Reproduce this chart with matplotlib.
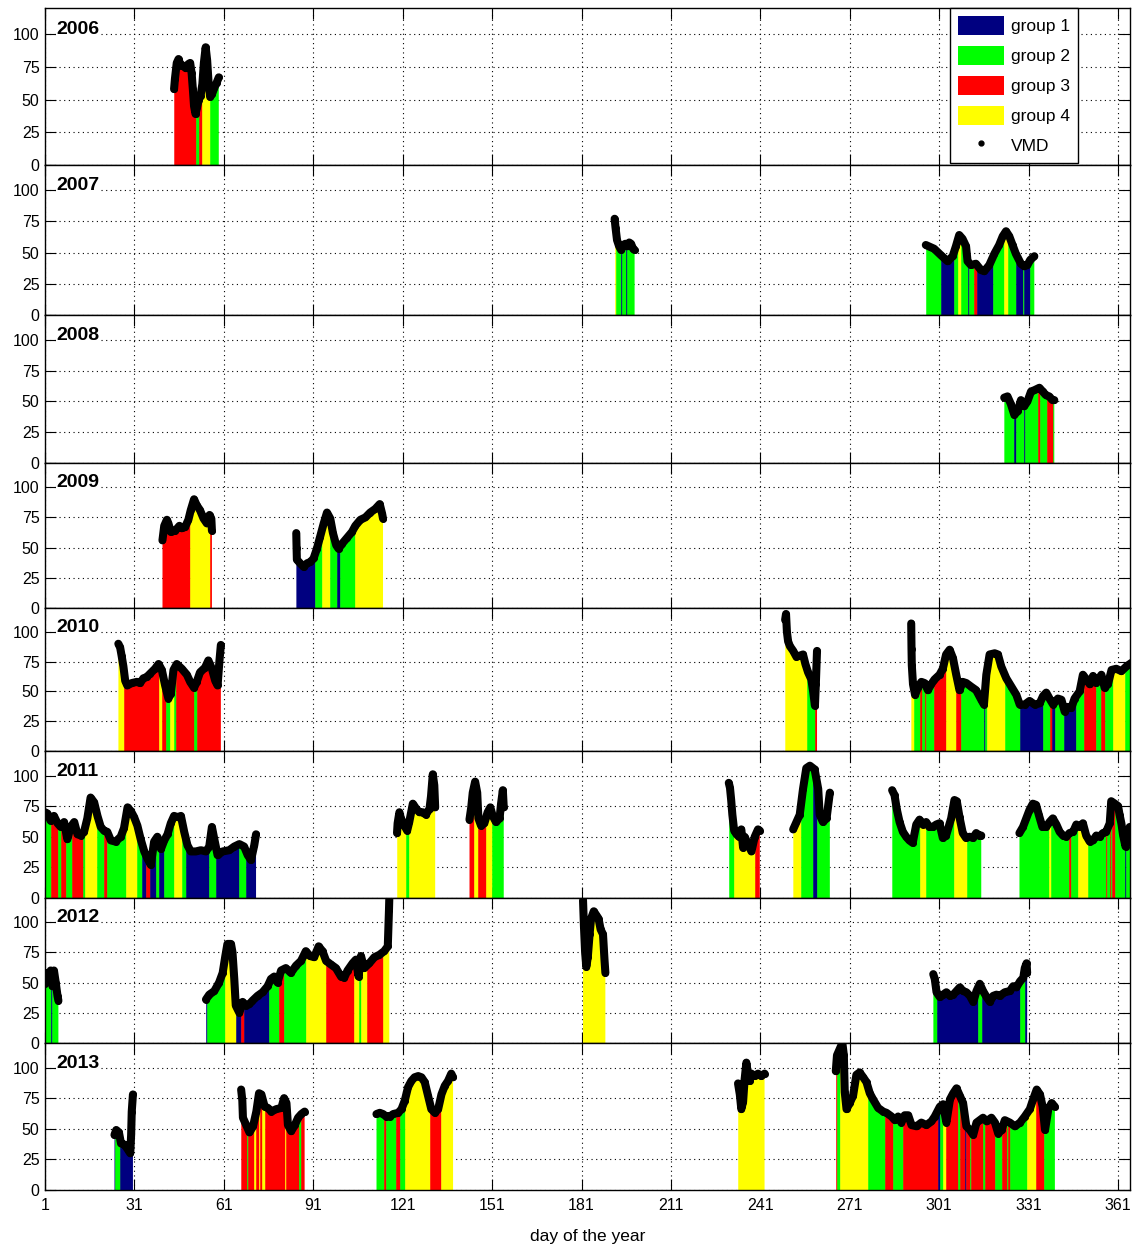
import numpy as np
import matplotlib
matplotlib.use("Agg")
import matplotlib.pyplot as plt
from matplotlib.patches import Patch, PathPatch
from matplotlib.lines import Line2D
from matplotlib.path import Path

plt.rcParams['font.family'] = ['Liberation Sans', 'DejaVu Sans']

years = [2006, 2007, 2008, 2009, 2010, 2011, 2012, 2013]
group_names = ['group 1', 'group 2', 'group 3', 'group 4']
group_colors = {1: '#000080', 2: '#00ff00', 3: '#ff0000', 4: '#ffff00'}
xticks = [1, 31, 61, 91, 121, 151, 181, 211, 241, 271, 301, 331, 361]
yticks = [0, 25, 50, 75, 100]

# ---- VMD observations: one list per continuous run (day of year, VMD) ----
day_2006 = [[44.3, 44.6, 45.2, 45.8, 46.5, 47.3, 48.2, 49.0, 49.7, 50.2, 50.6, 51.0, 51.5,
             52.0, 52.6, 53.2, 53.8, 54.3, 54.9, 55.4, 55.9, 56.4, 57.0, 57.8, 58.6, 59.3]]
vmd_2006 = [[58, 66, 78, 81, 76, 76, 74, 77, 78, 70, 58, 45, 39,
             44, 50, 53, 62, 78, 90, 80, 62, 52, 54, 59, 63, 67]]
seg_2006 = [(44.3, 51.5, 3), (51.5, 52.8, 2), (52.8, 53.7, 3), (53.7, 56.4, 4), (56.4, 59.3, 2)]

day_2007 = [[192.1, 192.4, 192.9, 193.6, 194.3, 195.0, 195.7, 196.4, 197.0, 197.6, 198.3, 198.8],
            [296.5, 299.3, 301.5, 303.8, 305.5, 306.6, 307.7, 308.8, 310.0, 310.5, 311.6, 313.3,
             315.0, 316.1, 317.8, 319.5, 321.1, 322.3, 323.4, 324.5, 325.6, 326.7, 328.4, 329.5,
             330.6, 331.5, 332.9]]
vmd_2007 = [[77, 70, 60, 55, 52, 56, 57, 55, 58, 57, 53, 52],
            [56, 53, 48, 43, 47, 55, 64, 61, 55, 43, 40, 41,
             36, 35, 40, 49, 56, 63, 67, 63, 56, 49, 41, 39,
             40, 44, 47]]
seg_2007 = [(192.1, 192.7, 4), (192.7, 194.4, 2), (194.4, 194.7, 1), (194.7, 195.9, 2),
            (195.9, 196.2, 1), (196.2, 198.8, 2),
            (296.5, 301.5, 2), (301.5, 306.0, 1), (306.0, 307.4, 2), (307.4, 308.3, 4),
            (308.3, 310.5, 2), (310.5, 311.1, 1), (311.1, 312.7, 2), (312.7, 313.6, 3),
            (313.6, 318.9, 1), (318.9, 322.8, 2), (322.8, 324.0, 4), (324.0, 326.7, 2),
            (326.7, 329.0, 1), (329.0, 329.5, 2), (329.5, 331.4, 1), (331.4, 332.9, 2)]

day_2008 = [[322.8, 323.9, 325.0, 326.2, 327.3, 328.4, 329.5, 330.6, 331.8, 332.9, 334.6,
             335.7, 336.8, 337.9, 339.0, 339.6]]
vmd_2008 = [[53, 54, 48, 39, 42, 51, 46, 50, 58, 59, 61, 58, 55, 54, 51, 51]]
seg_2008 = [(322.8, 326.2, 2), (326.2, 326.6, 1), (326.6, 329.5, 2), (329.5, 329.9, 1),
            (329.9, 334.0, 2), (334.0, 334.9, 3), (334.9, 337.1, 2), (337.1, 339.0, 3),
            (339.0, 339.6, 2)]

day_2009 = [[40.4, 41.0, 41.9, 42.4, 43.2, 44.7, 46.1, 46.9, 48.0, 49.1, 49.9, 51.0, 51.9,
             53.0, 54.2, 55.3, 56.2, 56.8, 57.0],
            [85.3, 85.4, 85.5, 86.6, 87.8, 88.9, 90.0, 91.1, 92.2, 93.3, 94.5, 95.6, 96.7, 97.6,
             98.7, 99.5, 100.6, 102.3, 104.0, 105.1, 106.8, 108.5, 110.1, 111.8, 113.3, 114.1,
             114.4]]
vmd_2009 = [[56, 68, 73, 70, 63, 64, 68, 66, 67, 73, 81, 90, 85,
             81, 74, 70, 77, 74, 64],
            [62, 50, 40, 37, 34, 37, 38, 41, 49, 59, 70, 79, 74, 62,
             52, 49, 53, 58, 63, 68, 73, 75, 79, 82, 86, 78,
             74]]
seg_2009 = [(40.4, 49.5, 3), (49.5, 56.2, 4), (56.2, 57.0, 3),
            (85.3, 91.7, 1), (91.7, 93.9, 2), (93.9, 96.7, 4), (96.7, 98.9, 2),
            (98.9, 100.1, 1), (100.1, 105.1, 2), (105.1, 114.4, 4)]

day_2010 = [[25.6, 26.2, 26.7, 27.3, 27.9, 28.6, 30.1, 31.8, 32.9, 34.0, 35.1, 36.3, 37.9, 39.1,
             40.2, 41.3, 42.4, 43.2, 44.1, 45.2, 46.9, 48.6, 49.7, 51.0, 51.9, 53.0, 54.7, 55.8,
             57.0, 58.1, 58.9, 59.5, 60.0],
            [249.3, 249.6, 249.9, 250.3, 250.9, 252.0, 253.1, 254.2, 255.3, 256.1, 257.0, 258.1,
             258.7, 259.3, 259.6, 260.0],
            [291.6, 291.7, 291.8, 292.2, 292.9, 293.8, 295.0, 296.1, 297.2, 298.3, 299.4, 301.1,
             302.2, 303.3, 304.5, 305.6, 306.7, 307.8, 308.9, 310.1, 311.7, 313.4, 315.1, 316.0,
             316.8, 317.9, 319.6, 320.7, 321.8, 323.5, 325.2, 326.9, 328.0, 329.7, 331.3, 333.0,
             334.7, 335.8, 336.9, 338.0, 339.2, 340.8, 342.0, 343.1, 344.2, 345.3, 346.4, 348.1,
             349.2, 350.4, 351.5, 352.6, 353.7, 355.4, 356.5, 357.6, 358.8, 360.4, 362.1, 363.8,
             365.5]]
vmd_2010 = [[90, 87, 80, 71, 59, 55, 57, 58, 57, 61, 62, 65, 69, 73,
             68, 55, 44, 48, 68, 73, 69, 64, 58, 53, 58, 66, 70, 76,
             69, 59, 55, 75, 89],
            [110, 115, 100, 92, 88, 84, 79, 80, 81, 73, 66, 60,
             50, 38, 56, 84],
            [107, 86, 72, 56, 47, 53, 58, 57, 51, 56, 60, 64,
             69, 81, 85, 78, 64, 51, 58, 57, 54, 51, 43, 39,
             64, 81, 82, 81, 71, 61, 54, 47, 39, 39, 42, 39,
             40, 46, 49, 44, 39, 44, 43, 33, 37, 36, 44, 50,
             64, 60, 56, 63, 57, 64, 53, 56, 68, 69, 67, 71,
             74]]
seg_2010 = [(25.6, 27.6, 4), (27.6, 39.1, 3), (39.1, 40.4, 4), (40.4, 41.6, 3), (41.6, 43.0, 2),
            (43.0, 44.3, 4), (44.3, 44.8, 2), (44.8, 51.1, 3), (51.1, 51.9, 2), (51.9, 60.0, 3),
            (249.3, 256.5, 4), (256.5, 259.3, 2), (259.3, 260.0, 3),
            (291.4, 292.7, 4), (292.7, 294.7, 2), (294.7, 295.3, 3), (295.3, 296.1, 2),
            (296.1, 296.6, 3), (296.6, 299.4, 2), (299.4, 303.3, 3), (303.3, 306.7, 4),
            (306.7, 308.2, 3), (308.2, 315.9, 2), (315.9, 316.4, 1), (316.4, 317.1, 2),
            (317.1, 322.9, 4), (322.9, 328.0, 2), (328.0, 335.8, 1), (335.8, 338.0, 2),
            (338.0, 338.8, 3), (338.8, 339.7, 1), (339.7, 342.9, 2), (342.9, 347.0, 1),
            (347.0, 349.6, 2), (349.6, 353.7, 3), (353.7, 355.2, 2), (355.2, 356.7, 3),
            (356.7, 359.3, 2), (359.3, 363.2, 4), (363.2, 366.0, 2)]

day_2011 = [[1.0, 1.8, 2.9, 4.0, 5.2, 6.3, 7.4, 8.5, 9.6, 10.8, 11.9, 13.0, 14.1, 15.2, 16.3,
             17.5, 18.6, 19.7, 20.8, 21.9, 23.1, 24.7, 26.4, 27.5, 28.7, 29.8, 30.9, 32.0, 33.1,
             34.3, 35.4, 36.5, 37.6, 38.7, 39.9, 41.0, 42.1, 43.2, 44.3, 45.5, 46.6, 47.7, 48.8,
             49.9, 51.6, 53.3, 55.0, 56.1, 57.0, 57.8, 58.9, 60.6, 62.8, 64.5, 66.2, 67.8, 69.0,
             70.1, 71.2, 71.8],
            [119.1, 119.3, 119.9, 120.4, 121.6, 122.5, 123.2, 124.4, 125.5, 126.6, 127.7, 128.8,
             130.0, 130.5, 131.1, 131.6, 131.9],
            [143.4, 144.0, 144.5, 145.3, 146.0, 146.4, 147.3, 148.4, 149.5, 150.4, 151.2, 152.3,
             153.5, 154.0, 154.6, 154.9],
            [230.4, 230.8, 231.2, 231.6, 232.2, 233.0, 233.8, 234.6, 235.2, 235.7, 236.9, 238.0,
             239.1, 240.2, 240.8],
            [252.0, 253.1, 254.2, 255.3, 256.4, 257.6, 259.2, 260.4, 260.9, 262.0, 263.2, 264.3],
            [285.2, 286.0, 286.8, 287.7, 288.8, 289.9, 291.0, 292.1, 293.3, 294.4, 295.5, 296.6,
             297.7, 298.9, 300.0, 301.1, 302.2, 303.3, 305.0, 306.1, 306.9, 307.8, 308.9, 310.0,
             311.2, 312.3, 313.4, 314.5, 315.1],
            [327.9, 329.1, 330.2, 331.3, 332.4, 333.5, 334.4, 335.6, 336.9, 338.0, 339.1, 340.3,
             341.4, 342.5, 343.6, 344.7, 345.9, 347.0, 348.1, 349.2, 350.3, 351.5, 352.6, 353.7,
             354.8, 355.9, 357.0, 358.2, 358.7, 359.9, 361.0, 361.5, 362.1, 362.7, 363.5, 364.3,
             364.9, 365.5]]
vmd_2011 = [[70, 69, 63, 67, 61, 58, 62, 48, 58, 62, 52, 51, 54, 65, 82,
             78, 67, 58, 55, 54, 47, 46, 50, 57, 74, 71, 66, 59, 48,
             38, 32, 27, 46, 50, 40, 47, 52, 61, 67, 66, 67, 54, 43,
             38, 38, 39, 38, 42, 58, 48, 35, 38, 39, 42, 44, 42, 35,
             31, 43, 52],
            [53, 61, 70, 65, 59, 55, 62, 77, 73, 70, 70, 68,
             73, 83, 101, 92, 74],
            [64, 74, 86, 95, 86, 65, 59, 61, 70, 74, 67, 62,
             65, 77, 88, 74],
            [94, 90, 80, 68, 55, 52, 50, 56, 41, 50, 44, 38,
             50, 56, 55],
            [56, 62, 68, 89, 106, 108, 105, 89, 68, 62, 65, 86],
            [88, 84, 72, 62, 54, 50, 47, 45, 60, 64, 60, 62,
             58, 58, 60, 61, 49, 51, 65, 80, 79, 66, 53, 49,
             50, 49, 53, 51, 51],
            [53, 58, 65, 72, 77, 76, 68, 58, 58, 62, 65, 60,
             54, 51, 50, 53, 54, 60, 58, 61, 51, 46, 47, 51,
             50, 53, 54, 61, 79, 77, 75, 68, 61, 51, 42, 51,
             58, 54]]
seg_2011 = [(1.0, 2.9, 2), (2.9, 5.2, 3), (5.2, 6.3, 2), (6.3, 8.0, 3), (8.0, 9.9, 2),
            (9.9, 13.6, 3), (13.6, 14.4, 2), (14.4, 18.6, 4), (18.6, 20.8, 2), (20.8, 21.9, 3),
            (21.9, 28.1, 2), (28.1, 32.0, 4), (32.0, 33.7, 2), (33.7, 34.8, 1), (34.8, 36.3, 3),
            (36.3, 38.4, 1), (38.4, 39.3, 2), (39.3, 41.0, 1), (41.0, 44.3, 2), (44.3, 47.1, 4),
            (47.1, 48.3, 2), (48.3, 56.1, 1), (56.1, 58.3, 2), (58.3, 66.2, 1), (66.2, 68.4, 2),
            (68.4, 71.8, 1),
            (119.1, 122.1, 4), (122.1, 123.2, 2), (123.2, 131.9, 4),
            (143.4, 144.8, 3), (144.8, 146.4, 4), (146.4, 149.0, 3), (149.0, 151.0, 4),
            (151.0, 154.9, 2),
            (230.4, 232.2, 2), (232.2, 239.3, 4), (239.3, 240.8, 3),
            (252.0, 254.5, 4), (254.5, 258.7, 2), (258.7, 260.1, 1), (260.1, 264.3, 2),
            (285.2, 294.4, 2), (294.4, 296.6, 4), (296.6, 305.8, 2), (305.8, 310.3, 4),
            (310.3, 315.1, 2),
            (327.9, 337.8, 2), (337.8, 338.4, 4), (338.4, 344.5, 2), (344.5, 345.2, 3),
            (345.2, 347.5, 2), (347.5, 350.9, 4), (350.9, 356.8, 2), (356.8, 357.4, 3),
            (357.4, 358.2, 2), (358.2, 358.6, 3), (358.6, 359.1, 2), (359.1, 359.9, 3),
            (359.9, 363.3, 2), (363.3, 363.8, 1), (363.8, 366.0, 2)]

day_2012 = [[1.0, 1.2, 2.1, 2.9, 3.5, 4.0, 4.6, 5.2, 5.5],
            [55.0, 56.1, 57.8, 59.4, 60.6, 61.5, 62.2, 63.4, 63.9, 64.5, 65.0, 66.2, 67.3, 68.4,
             69.5, 70.6, 72.3, 74.0, 75.7, 76.8, 77.9, 79.0, 80.2, 81.8, 83.5, 85.2, 86.9, 88.5,
             89.9, 91.3, 92.8, 94.1, 95.3, 96.9, 98.6, 100.3, 101.4, 102.5, 104.2, 105.3, 106.2,
             107.0, 108.1, 109.8, 111.5, 113.2, 114.8, 116.0, 116.2, 116.4, 116.5],
            [181.5, 181.8, 182.2, 182.6, 183.1, 183.7, 184.2, 185.1, 185.9, 186.7, 187.4, 188.2,
             188.7, 189.0],
            [299.0, 299.5, 300.1, 301.2, 302.3, 303.4, 304.6, 305.7, 306.8, 307.9, 309.0, 310.1,
             311.3, 312.4, 313.5, 314.6, 315.7, 316.9, 318.0, 319.1, 320.2, 321.3, 323.0, 324.7,
             325.8, 326.9, 328.1, 329.2, 329.7, 330.3, 330.5]]
vmd_2012 = [[49, 58, 55, 60, 47, 60, 50, 39, 35],
            [36, 40, 43, 50, 58, 72, 82, 82, 75, 53, 31, 25, 34, 31,
             32, 35, 39, 42, 47, 53, 55, 50, 60, 62, 58, 64, 68, 76,
             72, 71, 80, 76, 68, 65, 62, 55, 54, 60, 66, 69, 55,
             72, 62, 66, 71, 73, 76, 80, 95, 110, 119],
            [118, 97, 75, 63, 71, 90, 103, 109, 106, 103, 94, 90,
             69, 58],
            [57, 53, 42, 38, 40, 42, 39, 40, 43, 46, 43, 42,
             39, 34, 43, 49, 43, 38, 34, 39, 40, 39, 42, 43,
             47, 46, 51, 54, 62, 66, 58]]
seg_2012 = [(1.0, 2.9, 2), (2.9, 3.5, 1), (3.5, 5.5, 2),
            (55.0, 55.5, 1), (55.5, 61.5, 2), (61.5, 65.0, 4), (65.0, 66.9, 1), (66.9, 67.7, 3),
            (67.7, 76.2, 1), (76.2, 79.6, 2), (79.6, 81.3, 3), (81.3, 88.5, 2), (88.5, 95.3, 4),
            (95.3, 104.8, 3), (104.8, 106.2, 4), (106.2, 107.0, 2), (107.0, 108.9, 4),
            (108.9, 114.3, 3), (114.3, 116.5, 4),
            (181.3, 189.0, 4),
            (299.0, 300.1, 2), (300.1, 314.1, 1), (314.1, 315.2, 2), (315.2, 328.1, 1),
            (328.1, 329.7, 2), (329.7, 330.5, 1)]

day_2013 = [[24.3, 24.9, 25.8, 26.5, 27.7, 28.8, 29.6, 29.9, 30.1, 30.5],
            [66.8, 67.2, 67.4, 68.5, 69.6, 70.8, 71.9, 72.8, 73.6, 74.7, 75.8, 76.9, 78.6, 80.3,
             81.2, 82.0, 82.5, 83.6, 84.8, 85.9, 87.0, 88.1],
            [112.2, 113.3, 114.4, 115.5, 116.7, 117.8, 119.5, 120.6, 121.7, 122.8, 123.9, 125.0,
             126.2, 127.3, 128.4, 129.5, 130.6, 131.8, 132.9, 134.0, 135.1, 136.2, 137.3, 137.9],
            [233.5, 234.1, 234.6, 235.2, 235.7, 236.3, 236.9, 237.4, 238.0, 239.1, 240.2, 241.3,
             242.4],
            [266.3, 266.7, 267.6, 268.5, 269.0, 269.3, 269.9, 271.0, 272.1, 273.2, 274.3, 275.5,
             276.6, 277.7, 278.8, 280.5, 282.2, 283.3, 285.0, 286.1, 287.2, 288.3, 289.4, 290.6,
             291.7, 293.4, 295.0, 296.7, 298.4, 299.5, 301.2, 302.3, 303.4, 304.6, 305.7, 306.8,
             307.9, 309.0, 310.1, 311.3, 312.4, 313.5, 314.6, 315.7, 316.9, 318.5, 319.7, 320.8,
             321.9, 323.0, 324.7, 326.4, 328.1, 329.7, 331.4, 332.5, 333.7, 334.8, 335.7, 336.5,
             337.6, 338.7, 339.8]]
vmd_2013 = [[45, 49, 47, 38, 37, 33, 30, 45, 64, 78],
            [82, 73, 59, 53, 47, 52, 64, 79, 78, 68, 67, 64, 66, 67,
             75, 71, 53, 48, 53, 59, 62, 64],
            [62, 63, 62, 60, 60, 62, 63, 66, 73, 84, 89, 92,
             93, 92, 88, 77, 66, 63, 66, 78, 85, 89, 95, 92],
            [87, 78, 66, 72, 90, 104, 93, 89, 95, 93, 95, 93,
             95],
            [97, 110, 115, 120, 110, 80, 66, 71, 77, 94, 96, 92,
             88, 79, 74, 67, 64, 63, 60, 57, 60, 55, 61, 61,
             53, 52, 55, 53, 56, 60, 68, 70, 55, 74, 79, 83,
             77, 71, 52, 49, 45, 55, 57, 59, 56, 59, 55, 46,
             49, 57, 55, 52, 55, 60, 66, 74, 82, 78, 68, 49,
             66, 71, 68]]
seg_2013 = [(24.3, 24.6, 1), (24.6, 26.0, 2), (26.0, 30.5, 1),
            (66.8, 68.7, 3), (68.7, 69.2, 2), (69.2, 71.0, 3), (71.0, 71.7, 4), (71.7, 72.8, 3),
            (72.8, 73.2, 4), (73.2, 73.9, 3), (73.9, 74.8, 4), (74.8, 81.4, 3), (81.4, 82.0, 4),
            (82.0, 86.2, 3), (86.2, 86.8, 2), (86.8, 88.1, 3),
            (112.2, 114.6, 2), (114.6, 115.5, 3), (115.5, 118.9, 2), (118.9, 120.0, 3),
            (120.0, 121.7, 2), (121.7, 130.1, 4), (130.1, 133.7, 3), (133.7, 137.9, 4),
            (233.5, 242.4, 4),
            (266.3, 266.6, 3), (266.6, 267.6, 2), (267.6, 277.1, 4), (277.1, 282.7, 2),
            (282.7, 285.5, 3), (285.5, 288.7, 2), (288.7, 300.6, 3), (300.6, 301.4, 1),
            (301.4, 302.1, 2), (302.1, 303.4, 4), (303.4, 307.3, 3), (307.3, 307.9, 2),
            (307.9, 309.6, 3), (309.6, 309.9, 1), (309.9, 311.3, 3), (311.3, 311.6, 2),
            (311.6, 315.7, 3), (315.7, 316.2, 2), (316.2, 319.7, 3), (319.7, 322.2, 2),
            (322.2, 323.8, 3), (323.8, 324.1, 2), (324.1, 324.9, 3), (324.9, 330.5, 2),
            (330.5, 333.4, 4), (333.4, 336.1, 3), (336.1, 340.1, 2)]

days_by_year = [day_2006, day_2007, day_2008, day_2009, day_2010, day_2011, day_2012, day_2013]
vmd_by_year = [vmd_2006, vmd_2007, vmd_2008, vmd_2009, vmd_2010, vmd_2011, vmd_2012, vmd_2013]
segs_by_year = [seg_2006, seg_2007, seg_2008, seg_2009, seg_2010, seg_2011, seg_2012, seg_2013]

# ---- figure layout (pixel rows of the stacked panels) ----
W, H = 1135, 1247
fig = plt.figure(figsize=(W / 100, H / 100), dpi=100)
left_px, right_px = 45, 1130
row_edges = [8, 165, 315, 463, 608, 751, 898, 1043, 1190]

axes = []
for k, year in enumerate(years):
    top, bot = row_edges[k], row_edges[k + 1]
    ax = fig.add_axes([left_px / W, 1 - bot / H, (right_px - left_px) / W, (bot - top) / H])
    axes.append(ax)
    ax.set_xlim(1, 365)
    ax.set_ylim(0, 120)
    ax.set_axisbelow(True)
    ax.grid(True, color='k', linestyle=(0, (1, 3.2)), linewidth=0.8)

    # area under the VMD curve, used to clip the group colour bands
    verts, codes = [], []
    for d, v in zip(days_by_year[k], vmd_by_year[k]):
        pts = [(d[0], 0.0)] + list(zip(d, v)) + [(d[-1], 0.0), (d[0], 0.0)]
        verts.extend(pts)
        codes.extend([Path.MOVETO] + [Path.LINETO] * (len(pts) - 2) + [Path.CLOSEPOLY])
    area = PathPatch(Path(verts, codes), transform=ax.transData, facecolor='none',
                     edgecolor='none')
    ax.add_patch(area)
    for s, e, g in segs_by_year[k]:
        band = ax.axvspan(s, e, facecolor=group_colors[g], edgecolor=group_colors[g],
                          linewidth=0.4, zorder=1)
        band.set_clip_path(area)

    for d, v in zip(days_by_year[k], vmd_by_year[k]):
        ax.plot(d, v, color='k', linewidth=5.8, solid_joinstyle='round',
                solid_capstyle='round', marker='o', markersize=4, zorder=3)

    ax.set_xticks(xticks)
    ax.set_yticks(yticks)
    ax.tick_params(direction='in', length=8, width=0.8, top=True, right=True,
                   labelsize=11.5, pad=4)
    ax.tick_params(axis='x', pad=6)
    if k < len(years) - 1:
        ax.set_xticklabels([])
    for sp in ax.spines.values():
        sp.set_linewidth(1.0)
    ax.text(4.7, 103.5, str(year), fontsize=14, fontweight='bold', ha='left', va='center',
            zorder=6, bbox=dict(facecolor='white', edgecolor='none', pad=0.3))

handles = [Patch(facecolor=group_colors[i + 1], edgecolor='none') for i in range(4)]
handles.append(Line2D([], [], color='k', marker='.', linestyle='none', markersize=7))
leg = axes[0].legend(handles, group_names + ['VMD'], loc='upper right',
                     bbox_to_anchor=((1078 - left_px) / (right_px - left_px), 1.0),
                     borderaxespad=0, fontsize=12.5, handlelength=2.65, handleheight=1.35,
                     labelspacing=0.6, handletextpad=0.4, borderpad=0.45,
                     fancybox=False, edgecolor='k', framealpha=1)
leg.get_frame().set_linewidth(1.0)
leg.set_zorder(10)

fig.text((left_px + right_px) / 2 / W, 1 - 1236 / H, 'day of the year', ha='center',
         va='center', fontsize=12.5)

fig.savefig('out.png', dpi=100)
